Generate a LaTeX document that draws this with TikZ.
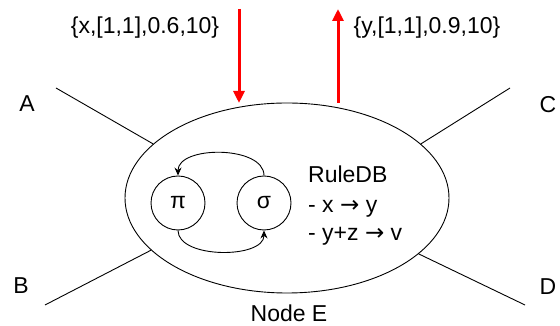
\documentclass[tikz,border=0pt]{standalone}
\usepackage{fontspec}
\setmainfont{Liberation Sans}
\newfontfamily\arrowfont{DejaVu Sans}
\usetikzlibrary{shapes.geometric, arrows.meta}

\newcommand{\yields}{{\arrowfont →}}

\begin{document}
\begin{tikzpicture}[x = 1pt, y = 1pt,
	every node/.style = {font = \fontsize{23}{28}\selectfont},
	plain/.style = {line width = 0.9pt},
	state/.style = {circle, draw, line width = 0.9pt, minimum size = 54pt, inner sep = 0pt},
	loop/.style = {line width = 0.9pt, -{Stealth[length = 8pt, width = 7pt]}},
	flow/.style = {red, line width = 3pt, -{Triangle[width = 11pt, length = 12pt]}}]
	\useasboundingbox (0, 0) rectangle (560, 326);
	% the node
	\node[ellipse, draw, line width = 0.9pt, minimum width = 324pt, minimum height = 190pt, inner sep = 0pt] (nodeE) at (287, 128) {};
	\node (nodeEname) at (289, 13) {Node E};
	% neighbours
	\node (labA) at (27, 222) {A};
	\node (labB) at (21,  40) {B};
	\node (labC) at (548, 221) {C};
	\node (labD) at (548,  39) {D};
	\coordinate (endA) at (56,  238);
	\coordinate (endB) at (45,   21);
	\coordinate (endC) at (510, 238);
	\coordinate (endD) at (525,  21);
	\draw[plain] (endA) -- (nodeE.158.7);
	\draw[plain] (endB) -- (nodeE.201.8);
	\draw[plain] (endC) -- (nodeE.22.2);
	\draw[plain] (endD) -- (nodeE.337.8);
	% input and output
	\coordinate (inTop)   at (239, 317);
	\coordinate (inTip)   at (239, 223);
	\coordinate (outFoot) at (338, 223);
	\coordinate (outTop)  at (338, 317);
	\draw[flow] (inTop) -- (inTip);
	\draw[flow] (outFoot) -- (outTop);
	\node (inLabel)  at (145, 298) {\{x,[1,1],0.6,10\}};
	\node (outLabel) at (427, 298) {\{y,[1,1],0.9,10\}};
	% states
	\node[state] (pi)    at (178, 123) {π};
	\node[state] (sigma) at (264, 123) {σ};
	\draw[loop] (sigma.north) to[out = 90, in = 90, looseness = 0.9] (pi.north);
	\draw[loop] (pi.south) to[out = -90, in = -90, looseness = 0.85] (sigma.south);
	% rules
	\node[anchor = base west, inner sep = 0pt] (ruleHead) at (308, 143) {RuleDB};
	\node[anchor = base west, inner sep = 0pt] (ruleOne)  at (308, 113) {- x \yields{} y};
	\node[anchor = base west, inner sep = 0pt] (ruleTwo)  at (308,  85) {- y+z \yields{} v};
\end{tikzpicture}
\end{document}
